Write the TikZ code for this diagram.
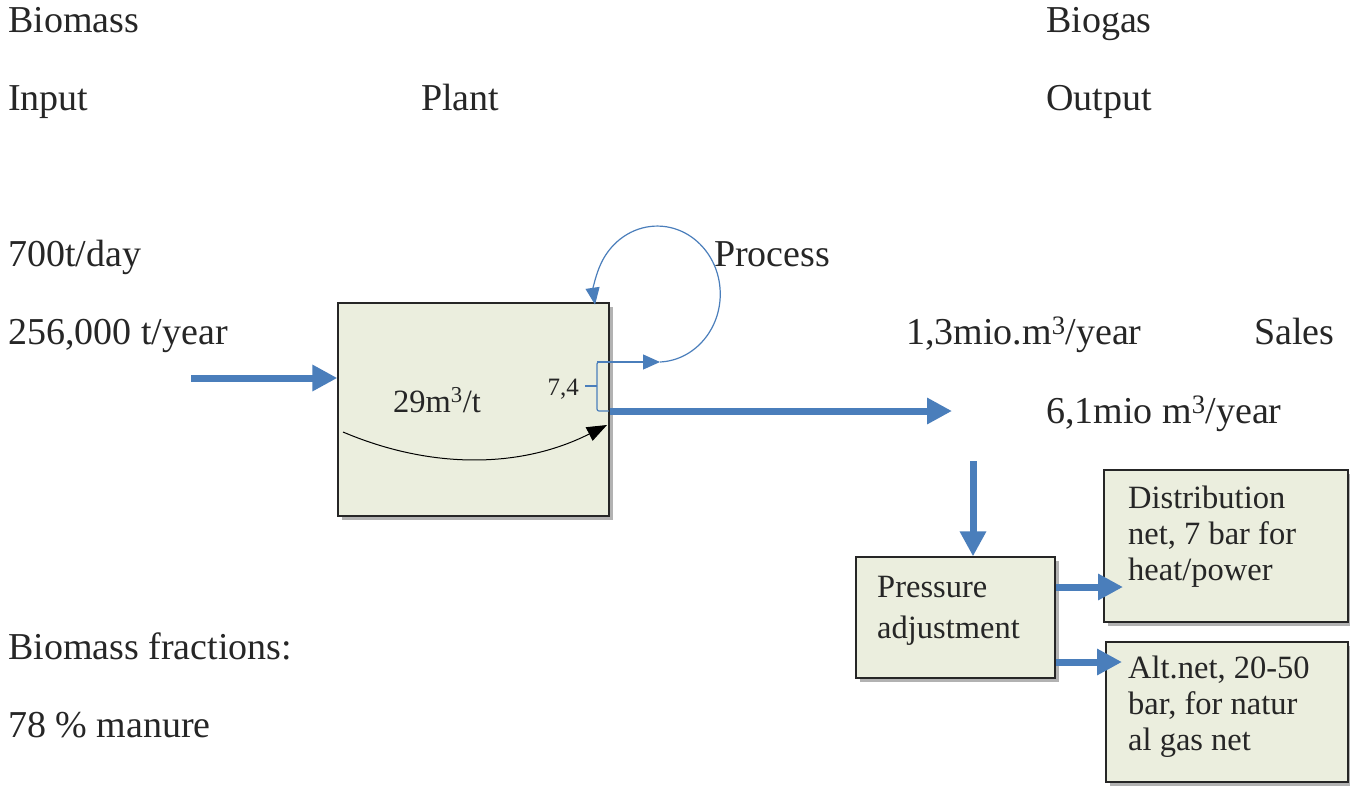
\documentclass[tikz,border=0pt]{standalone}
\usepackage{fontspec}
\setmainfont{Liberation Serif}
\usetikzlibrary{arrows.meta,shadows,calc}
\definecolor{flowblue}{HTML}{4A7EBB}
\definecolor{boxfill}{HTML}{EBEEDE}
\definecolor{txt}{HTML}{262626}
\begin{document}
\begin{tikzpicture}[x=1pt,y=-1pt,
  lbl/.style={anchor=base west, inner sep=0pt, font=\fontsize{38}{44}\selectfont, text=txt},
  boxtext/.style={anchor=base west, inner sep=0pt, font=\fontsize{32.5}{36}\selectfont, text=txt, align=left},
  panel/.style={draw=black!85, line width=1.3pt, fill=boxfill, inner sep=0pt,
    drop shadow={shadow xshift=4pt, shadow yshift=-4pt, fill=black, opacity=0.3}},
  bigarrow/.style={draw=flowblue, line width=7pt, -{Triangle[length=25pt,width=25pt]}},
  thinblue/.style={draw=flowblue, line width=1.2pt}
]
\useasboundingbox (0,0) rectangle (1350,785);
\fill[white] (0,0) rectangle (1350,785);

% headings and figures
\node[lbl] (biomass) at (8,32) {Biomass};
\node[lbl] (input) at (8,110) {Input};
\node[lbl] (plantlbl) at (421,110) {Plant};
\node[lbl] (biogas) at (1046,32) {Biogas};
\node[lbl] (output) at (1046,110) {Output};
\node[lbl] (perday) at (8,266) {700t/day};
\node[lbl] (peryear) at (8,344) {256,000 t/year};
\node[lbl] (process) at (714,266) {Process};
\node[lbl] (sold) at (906,344) {1,3mio.m\textsuperscript{3}/year};
\node[lbl] (sales) at (1254,344) {Sales};
\node[lbl] (total) at (1046,423) {6,1mio m\textsuperscript{3}/year};
\node[lbl] (fractions) at (8,659) {Biomass fractions:};
\node[lbl] (manure) at (8,737) {78 \% manure};

% boxes
\node[panel, minimum width=271pt, minimum height=213pt] (plant) at (473.5,409.5) {};
\node[panel, minimum width=199pt, minimum height=121pt] (press) at (955.5,617.5) {};
\node[panel, minimum width=244pt, minimum height=152pt] (dist) at (1226,546) {};
\node[panel, minimum width=242pt, minimum height=140pt] (alt) at (1227,712) {};

\node[boxtext] (yield) at (393,412) {29m\textsuperscript{3}/t};
% multi-line texts: base anchor is the baseline of the last line
\node[boxtext, font=\fontsize{32.5}{41}\selectfont] (presstxt) at (877,638) {Pressure\\adjustment};
\node[boxtext] (disttxt) at (1128,580) {Distribution\\net, 7 bar for\\heat/power};
\node[boxtext] (alttxt) at (1128,750) {Alt.net, 20-50\\bar, for natur\\al gas net};

% curve in plant
\coordinate (cvS) at (343,432);
\coordinate (cvE) at (607,425);
\draw[black, line width=1pt, -{Triangle[length=20pt,width=15pt]}] (cvS) .. controls (430,469) and (520,469) .. (cvE);

% bracket and loop
\coordinate (brTop) at (597,362);
\coordinate (brBot) at (597,411);
\draw[thinblue, rounded corners=2pt] (609,362) -- (brTop) -- (brBot) -- (609,411);
\draw[thinblue] (597,386) -- (585,386);
\node[anchor=base east, inner sep=0pt, font=\fontsize{25}{30}\selectfont, text=txt] (ratio) at (579,395) {7,4};
\coordinate (loopStart) at (660,362);
\draw[thinblue, -{Triangle[length=17pt,width=15pt]}] (brTop) -- (loopStart);
\draw[thinblue, -{Triangle[length=17pt,width=14pt]}] (loopStart) arc[start angle=87.5, end angle=-189, x radius=63, y radius=68];

% flow arrows
\coordinate (inStart) at (191,378);
\draw[bigarrow] (inStart) -- (inStart -| plant.west);
\coordinate (outEnd) at (952,411);
\draw[bigarrow] (plant.east |- outEnd) -- (outEnd);
\coordinate (downStart) at (973,461);
\draw[bigarrow] (downStart) -- (downStart |- press.north);
\coordinate (distTip) at (1123,587);
\draw[bigarrow] (press.east |- distTip) -- (distTip);
\coordinate (altTip) at (1122,662);
\draw[bigarrow] (press.east |- altTip) -- (altTip);
\end{tikzpicture}
\end{document}
